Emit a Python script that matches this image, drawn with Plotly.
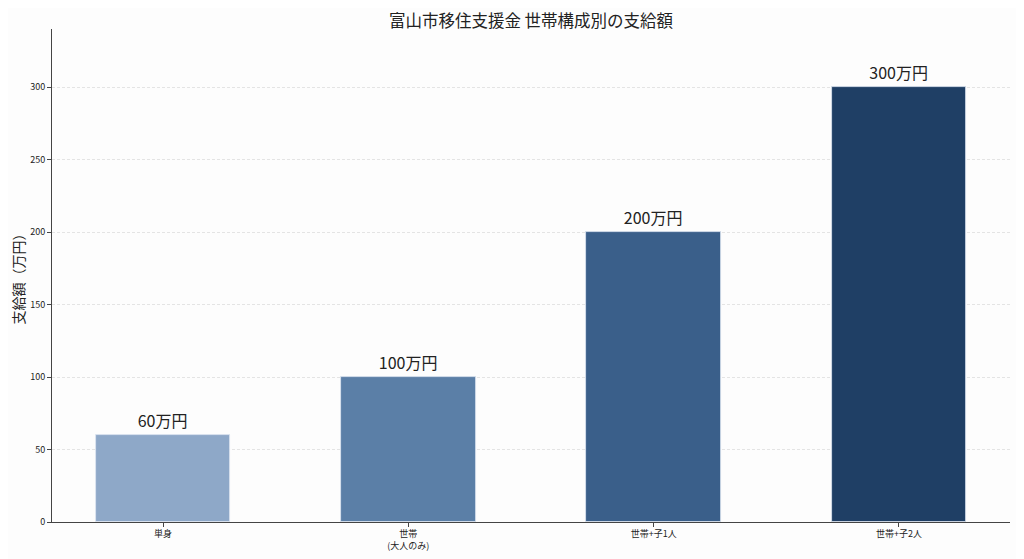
import plotly.graph_objects as go

categories = ["単身", "世帯<br>(大人のみ)", "世帯+子1人", "世帯+子2人"]
amounts = [60, 100, 200, 300]
labels = ["60万円", "100万円", "200万円", "300万円"]
colors = ["#8ea8c8", "#5b7fa7", "#3a5f8a", "#1f3f65"]
y_ticks = [0, 50, 100, 150, 200, 250, 300]

font_family = "Noto Sans CJK JP, Noto Sans, sans-serif"

fig = go.Figure()
fig.add_trace(go.Bar(
    x=list(range(len(categories))),
    y=amounts,
    width=0.55,
    marker=dict(color=colors, line=dict(color="#dde6f0", width=0.8)),
    text=labels,
    textposition="outside",
    textfont=dict(size=16, color="#222222"),
    cliponaxis=False,
))

# page body adds an 8px offset, so margins are shifted to compensate
fig.update_layout(
    width=1024, height=559,
    margin=dict(l=44, r=22, t=21, b=45, autoexpand=False),
    paper_bgcolor="#fdfdfd",
    plot_bgcolor="#fdfdfd",
    font=dict(family=font_family, color="#222222"),
    title=dict(text="富山市移住支援金 世帯構成別の支給額", xref="paper", x=0.5, xanchor="center",
               y=0.977, yanchor="middle", font=dict(size=16.5, color="#222222")),
    showlegend=False,
    bargap=0,
)
fig.update_xaxes(
    range=[-0.4525, 3.4525],
    tickvals=list(range(len(categories))),
    ticktext=categories,
    tickfont=dict(size=9),
    ticks="outside", ticklen=4, tickcolor="#444444",
    ticklabelstandoff=-1,
    showline=True, linecolor="#444444", linewidth=1,
    showgrid=False, zeroline=False, automargin=False,
)
fig.update_yaxes(
    range=[0, 340],
    tickvals=y_ticks,
    tickfont=dict(size=9),
    ticks="outside", ticklen=4, tickcolor="#444444",
    showline=True, linecolor="#444444", linewidth=1,
    showgrid=True, gridcolor="#e4e4e4", griddash="3px,2px", gridwidth=0.8,
    zeroline=False, automargin=False,
    title=dict(text="支給額（万円）", font=dict(size=14), standoff=4),
)

fig.write_html("out.html")
